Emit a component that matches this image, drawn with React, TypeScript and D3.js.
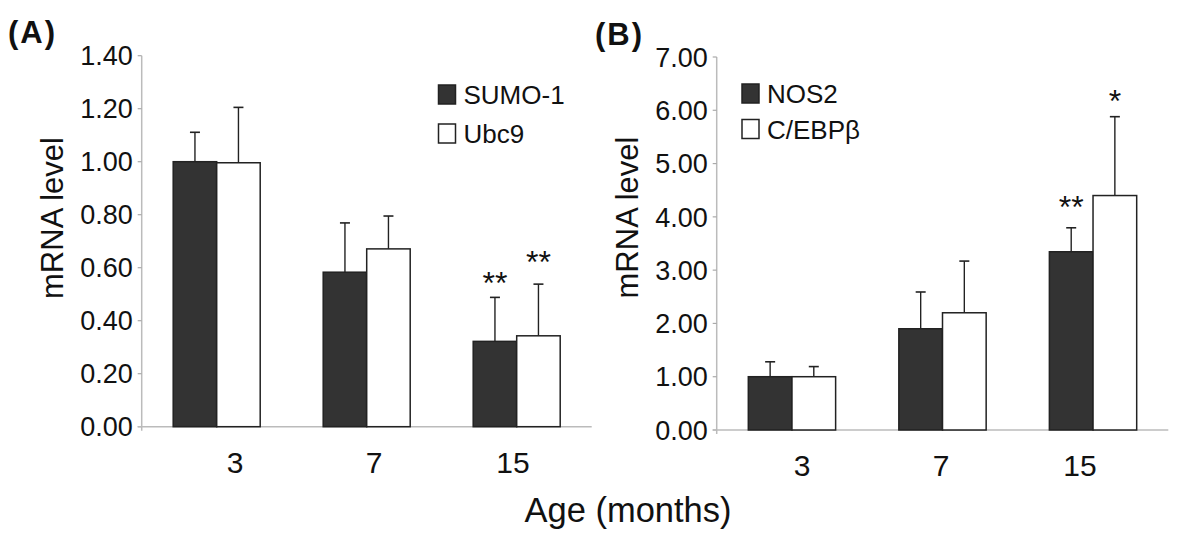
import React from "react";
import * as d3 from "d3";

const ages = ["3", "7", "15"];

const seriesA = ["SUMO-1", "Ubc9"];
const sumo1 = [1.0, 0.583, 0.322];
const sumo1Err = [0.111, 0.186, 0.166];
const ubc9 = [0.996, 0.671, 0.343];
const ubc9Err = [0.209, 0.124, 0.195];
const ticksA = [0, 0.2, 0.4, 0.6, 0.8, 1.0, 1.2, 1.4];

const seriesB = ["NOS2", "C/EBPβ"];
const nos2 = [1.0, 1.9, 3.345];
const nos2Err = [0.28, 0.69, 0.45];
const cebpb = [1.0, 2.2, 4.4];
const cebpbErr = [0.19, 0.97, 1.48];
const ticksB = [0, 1, 2, 3, 4, 5, 6, 7];

// significance marks: [category index, series index, text, y position in data units]
const sigA: [number, number, string, number][] = [
  [2, 0, "**", 0.5],
  [2, 1, "**", 0.58],
];
const sigB: [number, number, string, number][] = [
  [2, 0, "**", 3.98],
  [2, 1, "*", 5.97],
];

const FONT = "'Liberation Sans', Arial, Helvetica, sans-serif";
const INK = "#111";
const DARK = "#333333";

type PanelProps = {
  label: string;
  series: string[];
  values: number[][];
  errors: number[][];
  ticks: number[];
  yMax: number;
  sig: [number, number, string, number][];
  axisX0: number;
  axisX1: number;
  yBase: number;
  yTop: number;
  labelX0: number;
  labelX1: number;
  legendX: number;
  legendY: number;
  legendGap: number;
  panelLabelX: number;
  panelLabelY: number;
  titleX: number;
  titleY: number;
};

function Panel(p: PanelProps) {
  const y = d3.scaleLinear().domain([0, p.yMax]).range([p.yBase, p.yTop]);
  const x = d3
    .scaleBand<string>()
    .domain(ages)
    .range([p.axisX0, p.axisX1])
    .paddingInner(0.42)
    .paddingOuter(0.21);
  const xs = d3
    .scaleBand<number>()
    .domain(d3.range(p.series.length))
    .range([0, x.bandwidth()]);
  const xl = d3.scalePoint<string>().domain(ages).range([p.labelX0, p.labelX1]);
  const fills = [DARK, "#ffffff"];
  const fmt = d3.format(".2f");
  const capW = 10;

  return (
    <g>
      <text
        x={p.panelLabelX}
        y={p.panelLabelY}
        fontFamily={FONT}
        fontWeight="bold"
        fontSize={31}
        letterSpacing={2}
        fill={INK}
      >
        {p.label}
      </text>
      {/* y axis title */}
      <text
        transform={`translate(${p.titleX},${p.titleY}) rotate(-90)`}
        textAnchor="middle"
        fontFamily={FONT}
        fontSize={31}
        fill={INK}
      >
        mRNA level
      </text>
      {/* y axis */}
      <line x1={p.axisX0} x2={p.axisX0} y1={p.yTop} y2={p.yBase + 4} stroke="#bbb" strokeWidth={1.5} />
      {p.ticks.map((t) => (
        <g key={t}>
          <line x1={p.axisX0 - 4} x2={p.axisX0} y1={y(t)} y2={y(t)} stroke="#aaa" strokeWidth={1.2} />
          <text
            x={p.axisX0 - 9}
            y={y(t)}
            dy="0.36em"
            textAnchor="end"
            fontFamily={FONT}
            fontSize={27}
            fill={INK}
          >
            {fmt(t)}
          </text>
        </g>
      ))}
      {/* x axis */}
      <line x1={p.axisX0 - 4} x2={p.axisX1} y1={p.yBase} y2={p.yBase} stroke="#bbb" strokeWidth={1.5} />
      {ages.map((a) => (
        <text
          key={a}
          x={xl(a)}
          y={p.yBase + 46}
          textAnchor="middle"
          fontFamily={FONT}
          fontSize={30}
          fill={INK}
        >
          {a}
        </text>
      ))}
      {/* bars */}
      {p.series.map((s, si) =>
        ages.map((a, ci) => {
          const v = p.values[si][ci];
          const e = p.errors[si][ci];
          const bx = (x(a) as number) + (xs(si) as number);
          const bw = xs.bandwidth();
          const cx = bx + bw / 2;
          return (
            <g key={s + a}>
              <line x1={cx} x2={cx} y1={y(v)} y2={y(v + e)} stroke="#222" strokeWidth={1.4} />
              <line x1={cx - capW / 2} x2={cx + capW / 2} y1={y(v + e)} y2={y(v + e)} stroke="#222" strokeWidth={1.6} />
              <rect
                x={bx}
                y={y(v)}
                width={bw}
                height={p.yBase - y(v)}
                fill={fills[si]}
                stroke="#222"
                strokeWidth={1.5}
              />
            </g>
          );
        })
      )}
      {/* significance */}
      {p.sig.map(([ci, si, txt, pos], i) => {
        const bx = (x(ages[ci]) as number) + (xs(si) as number) + xs.bandwidth() / 2;
        return (
          <text
            key={i}
            x={bx}
            y={y(pos)}
            textAnchor="middle"
            fontFamily={FONT}
            fontSize={32}
            fill={INK}
          >
            {txt}
          </text>
        );
      })}
      {/* legend */}
      {p.series.map((s, si) => (
        <g key={s} transform={`translate(${p.legendX},${p.legendY + si * p.legendGap})`}>
          <rect x={0} y={-19} width={17} height={19} fill={fills[si]} stroke="#222" strokeWidth={1.5} />
          <text x={25} y={0} fontFamily={FONT} fontSize={26} fill={INK}>
            {s}
          </text>
        </g>
      ))}
    </g>
  );
}

export default function App() {
  return (
    <svg
      width={1200}
      height={548}
      style={{ position: "absolute", left: 0, top: 0, background: "#fff" }}
    >
      <rect width={1200} height={548} fill="#fff" />
      <Panel
        label="(A)"
        series={seriesA}
        values={[sumo1, ubc9]}
        errors={[sumo1Err, ubc9Err]}
        ticks={ticksA}
        yMax={1.4}
        sig={sigA}
        axisX0={141.7}
        axisX1={591.7}
        yBase={426.7}
        yTop={55.7}
        labelX0={235}
        labelX1={513}
        legendX={438.5}
        legendY={104}
        legendGap={39}
        panelLabelX={8}
        panelLabelY={43}
        titleX={63}
        titleY={218}
      />
      <Panel
        label="(B)"
        series={seriesB}
        values={[nos2, cebpb]}
        errors={[nos2Err, cebpbErr]}
        ticks={ticksB}
        yMax={7}
        sig={sigB}
        axisX0={716.7}
        axisX1={1168.3}
        yBase={430}
        yTop={57}
        labelX0={802}
        labelX1={1080}
        legendX={742}
        legendY={103}
        legendGap={35.5}
        panelLabelX={595}
        panelLabelY={45}
        titleX={638}
        titleY={217.5}
      />
      <text
        x={628}
        y={521.7}
        textAnchor="middle"
        fontFamily={FONT}
        fontSize={34.5}
        fill={INK}
      >
        Age (months)
      </text>
    </svg>
  );
}
